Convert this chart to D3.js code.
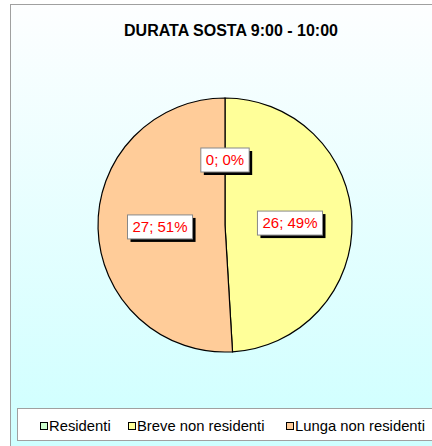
<!DOCTYPE html>
<html>
<head>
<script src="https://cdn.jsdelivr.net/npm/d3@7"></script>
<style>
  body { margin: 0; background: #fff; }
  text { font-family: "Liberation Sans", Arial, sans-serif; }
</style>
</head>
<body>
<script>
var width = 432, height = 446;

var categories = ["Residenti", "Breve non residenti", "Lunga non residenti"];
var values = [0, 26, 27];
var colors = ["#CCFFCC", "#FFFF99", "#FFCC99"];
var title = "DURATA SOSTA 9:00 - 10:00";

var total = d3.sum(values);

var svg = d3.select("body").append("svg")
    .attr("width", width)
    .attr("height", height);

var defs = svg.append("defs");
var grad = defs.append("linearGradient")
    .attr("id", "bg").attr("x1", 0).attr("y1", 0).attr("x2", 0).attr("y2", 1);
grad.append("stop").attr("offset", "0%").attr("stop-color", "#fdfeff");
grad.append("stop").attr("offset", "100%").attr("stop-color", "#ccffff");

// chart area frame
svg.append("rect")
    .attr("x", 10.5).attr("y", 4.5)
    .attr("width", 440).attr("height", 460)
    .attr("fill", "url(#bg)")
    .attr("stroke", "#a0a0a0").attr("stroke-width", 1);

svg.append("text")
    .attr("x", 231).attr("y", 36)
    .attr("text-anchor", "middle")
    .attr("font-size", 16).attr("font-weight", "bold")
    .text(title);

var cx = 225, cy = 225, r = 127;

var pie = d3.pie().sort(null).value(function(d) { return d; });
var arcs = pie(values);

var arc = d3.arc().innerRadius(0).outerRadius(r);
var labelArc = d3.arc().innerRadius(65).outerRadius(65);

var g = svg.append("g").attr("transform", "translate(" + cx + "," + cy + ")");

g.selectAll("path")
    .data(arcs)
    .enter().append("path")
    .attr("d", arc)
    .attr("fill", function(d, i) { return colors[i]; })
    .attr("stroke", "#000")
    .attr("stroke-width", 1.2);

var labels = g.selectAll("g.lab")
    .data(arcs)
    .enter().append("g")
    .attr("class", "lab")
    .attr("transform", function(d) {
        var c = labelArc.centroid(d);
        return "translate(" + c[0] + "," + c[1] + ")";
    });

labels.each(function(d) {
    var sel = d3.select(this);
    var txt = d.data + "; " + Math.round(d.data / total * 100) + "%";
    var t = sel.append("text")
        .attr("text-anchor", "middle")
        .attr("dy", "0.35em")
        .attr("font-size", 15)
        .attr("fill", "#ff0000")
        .text(txt);
    var bb = t.node().getBBox();
    var w = bb.width + 10, h = 24;
    sel.insert("rect", "text")
        .attr("x", -w / 2 + 3).attr("y", -h / 2 + 3)
        .attr("width", w).attr("height", h)
        .attr("fill", "#000");
    sel.insert("rect", "text")
        .attr("x", -w / 2).attr("y", -h / 2)
        .attr("width", w).attr("height", h)
        .attr("fill", "#fff")
        .attr("stroke", "#888").attr("stroke-width", 1);
});

// legend
svg.append("rect")
    .attr("x", 17.5).attr("y", 408.5)
    .attr("width", 430).attr("height", 32)
    .attr("fill", "#fff")
    .attr("stroke", "#a0a0a0");

var legendX = [40, 128, 286];
var leg = svg.selectAll("g.leg")
    .data(categories)
    .enter().append("g")
    .attr("class", "leg")
    .attr("transform", function(d, i) { return "translate(" + legendX[i] + ",426)"; });

leg.append("rect")
    .attr("x", 0.5).attr("y", -3.5)
    .attr("width", 7).attr("height", 7)
    .attr("fill", function(d, i) { return colors[i]; })
    .attr("stroke", "#000").attr("stroke-width", 1);

leg.append("text")
    .attr("x", 9).attr("y", 0)
    .attr("dy", "0.35em")
    .attr("font-size", 14.8)
    .text(function(d) { return d; });
</script>
</body>
</html>
